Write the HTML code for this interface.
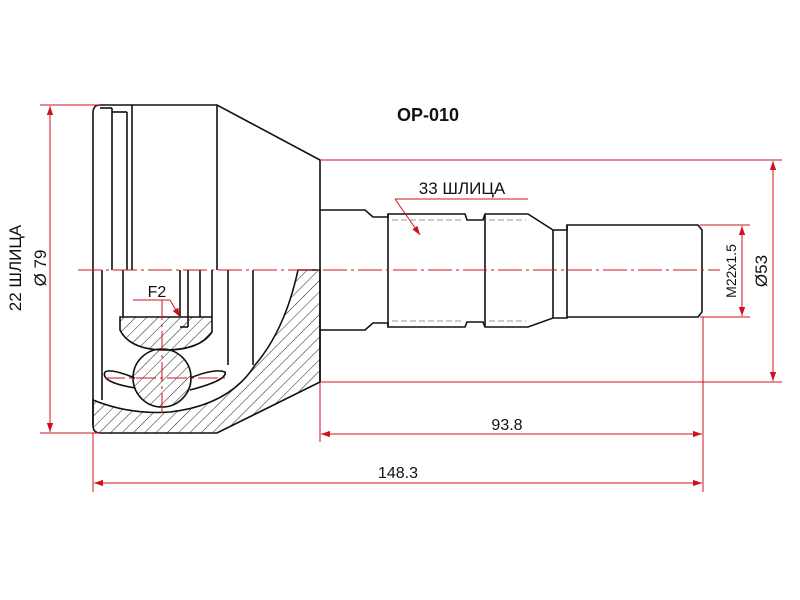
<!DOCTYPE html>
<html><head><meta charset="utf-8"><style>
html,body{margin:0;padding:0;background:#fff;width:800px;height:600px;overflow:hidden}
svg{display:block}
text{font-family:"Liberation Sans","Noto Sans CJK SC",sans-serif}
</style></head><body>
<svg width="800" height="600" viewBox="0 0 800 600" xmlns="http://www.w3.org/2000/svg">
<defs>
<pattern id="h" width="8" height="8" patternUnits="userSpaceOnUse" patternTransform="rotate(45)">
<line x1="0" y1="0" x2="0" y2="8" stroke="#222" stroke-width="1"/>
</pattern>
<marker id="a" viewBox="0 0 10 10" refX="10" refY="5" markerWidth="9" markerHeight="9" orient="auto-start-reverse"><path d="M0,1.5 L10,5 L0,8.5z" fill="#d01020"/></marker>
</defs>

<g fill="url(#h)" stroke="#111" stroke-width="1.6">
<path d="M298,270 L320,270 L320,382 L217,433 L100,433 Q93,433 93,425 L93,400 Q130,415 170,412 Q230,405 255,365 Q285,330 298,270 Z"/>
<path d="M120,317 L212,317 L212,332 Q200,350 165,350 Q130,350 120,330 Z"/>
<circle cx="162" cy="378" r="29"/>
</g>
<g fill="none" stroke="#111" stroke-width="1.6">
<path d="M100,105 L217,105 L320,160 L320,382"/>
<path d="M100,105 Q93,105 93,113 L93,425"/>
<line x1="217" y1="105" x2="217" y2="270"/>
<line x1="112" y1="108" x2="112" y2="270"/>
<line x1="127" y1="112" x2="127" y2="270"/>
<line x1="132" y1="105" x2="132" y2="270"/>
<line x1="100" y1="108" x2="112" y2="108"/>
<line x1="112" y1="112" x2="127" y2="112"/>
<line x1="102" y1="270" x2="102" y2="400"/>
<line x1="123" y1="270" x2="123" y2="317"/>
<line x1="180" y1="270" x2="180" y2="317"/>
<line x1="188" y1="270" x2="188" y2="327"/>
<line x1="180" y1="327" x2="188" y2="327"/>
<line x1="200" y1="270" x2="200" y2="317"/>
<line x1="212" y1="270" x2="212" y2="317"/>
<line x1="228" y1="270" x2="228" y2="365"/>
<line x1="253" y1="270" x2="253" y2="365"/>
<path d="M105,372 Q110,368 135,378 M105,372 Q100,382 135,388"/>
<path d="M190,378 Q215,368 225,372 Q228,380 190,390"/>
<path d="M320,210 L365,210 L373,217 L388,217 L388,214 L465,214 L467,220 L483,220 L485,214 L528,214 L553,230 L567,230 L567,225 L698,225 L702,230 L702,312 L698,317 L567,317 L567,318 L553,318 L528,327 L485,327 L483,322 L467,322 L465,327 L388,327 L388,323 L373,323 L365,330 L320,330"/>
<line x1="388" y1="214" x2="388" y2="327"/>
<line x1="485" y1="214" x2="485" y2="327"/>
<line x1="553" y1="230" x2="553" y2="318"/>
<line x1="567" y1="225" x2="567" y2="317"/>
</g>
<g stroke="#777" stroke-width="0.8" stroke-dasharray="6,3">
<line x1="392" y1="220" x2="462" y2="220"/><line x1="392" y1="321" x2="462" y2="321"/>
<line x1="489" y1="220" x2="526" y2="220"/><line x1="489" y1="321" x2="526" y2="321"/>
</g>

<g stroke="#d01020" stroke-width="1" fill="none">
<line x1="78" y1="270" x2="720" y2="270" stroke-dasharray="24,4,3,4"/>
<line x1="162" y1="300" x2="162" y2="415" stroke-dasharray="20,4,3,4"/>
<line x1="105" y1="378" x2="225" y2="378" stroke-dasharray="20,4,3,4"/>
<line x1="40" y1="105" x2="100" y2="105"/>
<line x1="40" y1="433" x2="100" y2="433"/>
<line x1="50" y1="106" x2="50" y2="432" marker-start="url(#a)" marker-end="url(#a)"/>
<line x1="320" y1="160" x2="782" y2="160"/>
<line x1="320" y1="382" x2="782" y2="382"/>
<line x1="773" y1="161" x2="773" y2="381" marker-start="url(#a)" marker-end="url(#a)"/>
<line x1="700" y1="225" x2="750" y2="225"/>
<line x1="700" y1="317" x2="750" y2="317"/>
<line x1="742" y1="226" x2="742" y2="316" marker-start="url(#a)" marker-end="url(#a)"/>
<line x1="703" y1="317" x2="703" y2="492"/>
<line x1="320" y1="382" x2="320" y2="442"/>
<line x1="93" y1="433" x2="93" y2="492"/>
<line x1="321" y1="434" x2="702" y2="434" marker-start="url(#a)" marker-end="url(#a)"/>
<line x1="94" y1="483" x2="702" y2="483" marker-start="url(#a)" marker-end="url(#a)"/>
<line x1="395" y1="199" x2="528" y2="199"/>
<line x1="395" y1="199" x2="420" y2="235" marker-end="url(#a)"/>
<line x1="133" y1="300" x2="170" y2="300"/>
<line x1="170" y1="300" x2="180" y2="317" marker-end="url(#a)"/>
</g>

<text x="428" y="121" font-size="18" font-weight="bold" text-anchor="middle" fill="#111">OP-010</text>
<text x="462" y="194" font-size="17" text-anchor="middle" fill="#111">33 ШЛИЦА</text>
<text x="157" y="297" font-size="16" text-anchor="middle" fill="#111">F2</text>
<text x="507" y="430" font-size="16" text-anchor="middle" fill="#111">93.8</text>
<text x="398" y="478" font-size="16" text-anchor="middle" fill="#111">148.3</text>
<text transform="translate(21,268) rotate(-90)" font-size="17" text-anchor="middle" fill="#111">22 ШЛИЦА</text>
<text transform="translate(46,268) rotate(-90)" font-size="17" text-anchor="middle" fill="#111">Ø 79</text>
<text transform="translate(736,271) rotate(-90)" font-size="14" text-anchor="middle" fill="#111">M22x1.5</text>
<text transform="translate(767,271) rotate(-90)" font-size="17" text-anchor="middle" fill="#111">Ø53</text>
</svg>
</body></html>
